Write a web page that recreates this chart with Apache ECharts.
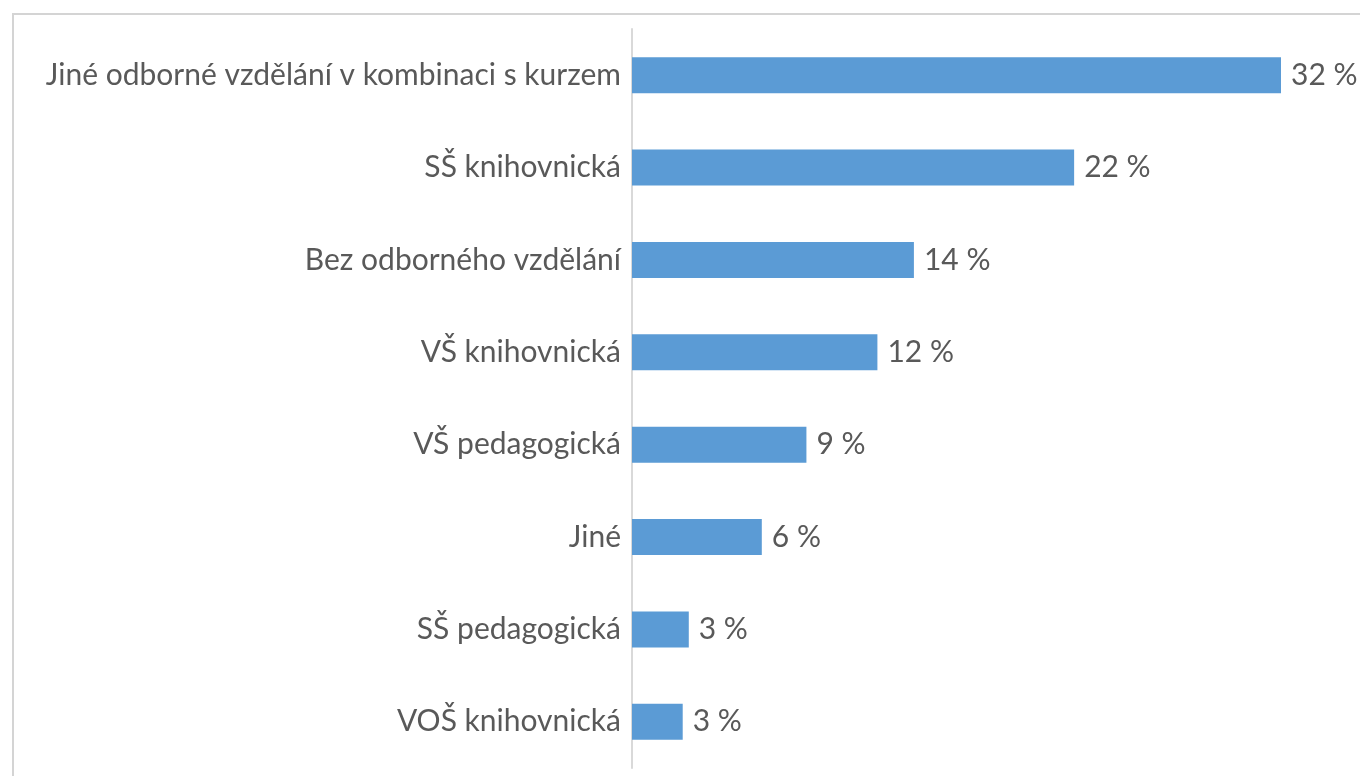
<!DOCTYPE html>
<html>
<head>
<meta charset="utf-8">
<script src="https://cdn.jsdelivr.net/npm/echarts@6/dist/echarts.min.js"></script>
<style>
  html, body { margin: 0; padding: 0; background: #fff; }
  #chart { width: 1360px; height: 776px; }
</style>
</head>
<body>
<div id="chart"></div>
<script>
// kategorie (shora dolu)
var categories = [
    'Jiné odborné vzdělání v kombinaci s kurzem',
    'SŠ knihovnická',
    'Bez odborného vzdělání',
    'VŠ knihovnická',
    'VŠ pedagogická',
    'Jiné',
    'SŠ pedagogická',
    'VOŠ knihovnická'
];
// delky sloupcu (%)
var values = [32, 21.8, 13.9, 12.1, 8.6, 6.4, 2.8, 2.5];
// popisky tak jak jsou v grafu
var percentLabels = [32, 22, 14, 12, 9, 6, 3, 3];

var chart = echarts.init(document.getElementById('chart'));

var option = {
    backgroundColor: '#fff',
    animation: false,
    textStyle: { fontFamily: 'Lato' },
    graphic: [{
        type: 'rect',
        shape: { x: 13, y: 14, width: 1400, height: 800 },
        style: { fill: 'none', stroke: '#d4d4d4', lineWidth: 2 }
    }],
    grid: {
        left: 632,
        right: 79,
        top: 29,
        bottom: 8
    },
    xAxis: {
        type: 'value',
        min: 0,
        max: 32,
        show: false
    },
    yAxis: {
        type: 'category',
        data: categories,
        inverse: true,
        axisLine: { show: true, lineStyle: { color: '#d9d9d9', width: 2 } },
        axisTick: { show: false },
        axisLabel: {
            color: '#595959',
            fontSize: 30,
            fontFamily: 'Lato',
            margin: 11
        }
    },
    series: [{
        type: 'bar',
        data: values,
        barWidth: 36,
        itemStyle: { color: '#5b9bd5' },
        label: {
            show: true,
            position: 'right',
            distance: 10,
            color: '#595959',
            fontSize: 30,
            fontFamily: 'Lato',
            formatter: function (p) {
                return percentLabels[p.dataIndex] + ' %';
            }
        }
    }]
};

chart.setOption(option);
</script>
</body>
</html>
